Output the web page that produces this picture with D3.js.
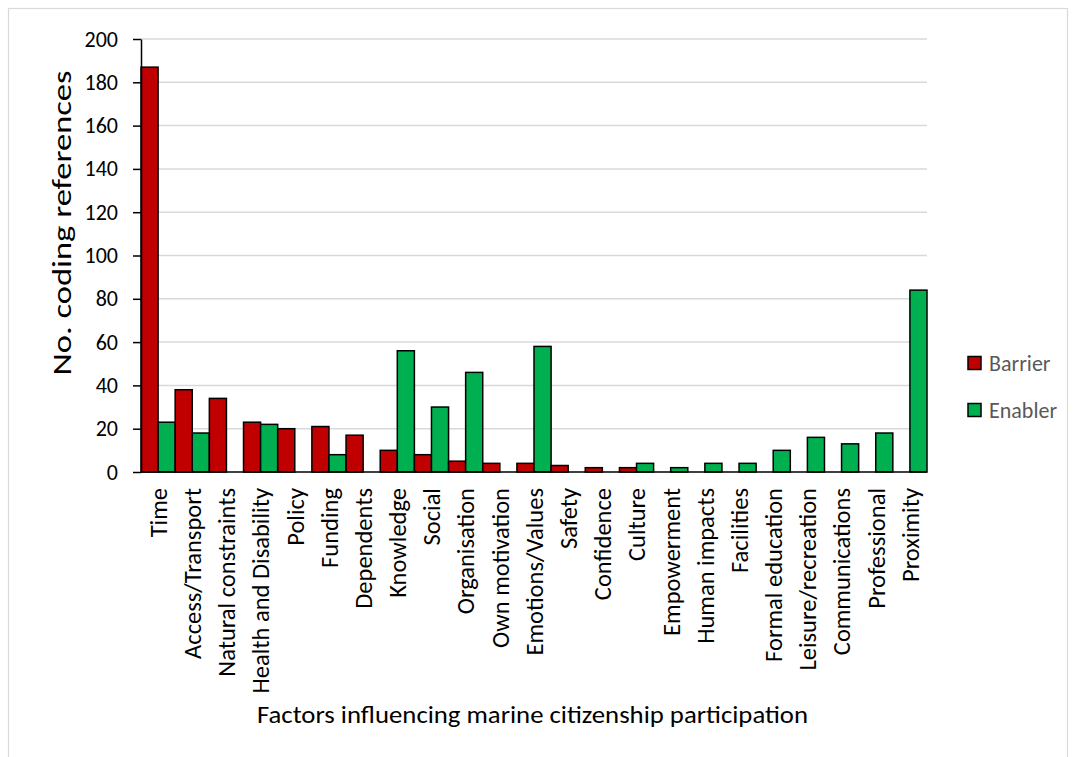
<!DOCTYPE html>
<html>
<head>
<meta charset="utf-8">
<script src="https://cdn.jsdelivr.net/npm/d3@7"></script>
<style>
  html, body { margin: 0; padding: 0; background: #fff; }
  svg text { font-family: Carlito, Lato, "Open Sans", sans-serif; }
</style>
</head>
<body>
<svg id="chart" width="1075" height="757"></svg>
<script>
// Factors and coding-reference counts
const categories = [
  "Time", "Access/Transport", "Natural constraints", "Health and Disability",
  "Policy", "Funding", "Dependents", "Knowledge", "Social", "Organisation",
  "Own motivation", "Emotions/Values", "Safety", "Confidence", "Culture",
  "Empowerment", "Human impacts", "Facilities", "Formal education",
  "Leisure/recreation", "Communications", "Professional", "Proximity"
];
const barrier = [187, 38, 34, 23, 20, 21, 17, 10, 8, 5, 4, 4, 3, 2, 2, 0, 0, 0, 0, 0, 0, 0, 0];
const enabler = [23, 18, 0, 22, 0, 8, 0, 56, 30, 46, 0, 58, 0, 0, 4, 2, 4, 4, 10, 16, 13, 18, 84];
const seriesNames = ["Barrier", "Enabler"];
const seriesColors = ["#c00000", "#00b050"];
const yTicks = [0, 20, 40, 60, 80, 100, 120, 140, 160, 180, 200];

const svg = d3.select("#chart");
const plot = { left: 141, right: 927, top: 39, bottom: 472 };

// outer chart frame
svg.append("rect")
  .attr("x", 8.5).attr("y", 8.5)
  .attr("width", 1059).attr("height", 780)
  .attr("fill", "#fff").attr("stroke", "#d9d9d9").attr("stroke-width", 1.2);

const x0 = d3.scaleBand().domain(categories).range([plot.left, plot.right]).padding(0);
const x1 = d3.scaleBand().domain(seriesNames).range([0, x0.bandwidth()]).padding(0);
const y = d3.scaleLinear().domain([0, 200]).range([plot.bottom, plot.top]);
const color = d3.scaleOrdinal().domain(seriesNames).range(seriesColors);

// horizontal gridlines
svg.append("g")
  .selectAll("line")
  .data(yTicks.filter(t => t > 0))
  .join("line")
  .attr("x1", plot.left).attr("x2", plot.right)
  .attr("y1", d => y(d)).attr("y2", d => y(d))
  .attr("stroke", "#d9d9d9").attr("stroke-width", 1.5);

// grouped bars
const rows = categories.map((c, i) => ({ category: c, values: [
  { series: "Barrier", value: barrier[i] },
  { series: "Enabler", value: enabler[i] }
]}));

svg.append("g")
  .selectAll("g")
  .data(rows)
  .join("g")
  .attr("transform", d => `translate(${x0(d.category)},0)`)
  .selectAll("rect")
  .data(d => d.values.filter(v => v.value > 0))
  .join("rect")
  .attr("x", d => x1(d.series))
  .attr("y", d => y(d.value))
  .attr("width", x1.bandwidth())
  .attr("height", d => y(0) - y(d.value))
  .attr("fill", d => color(d.series))
  .attr("stroke", "#000").attr("stroke-width", 1.5);

// y axis
const yAxis = svg.append("g")
  .attr("transform", `translate(${plot.left},0)`)
  .call(d3.axisLeft(y).tickValues(yTicks).tickSize(8).tickSizeOuter(0).tickPadding(15));
yAxis.attr("font-size", null).attr("font-family", null);
yAxis.select(".domain").attr("stroke", "#000").attr("stroke-width", 1.5);
yAxis.selectAll(".tick line").attr("stroke", "#000").attr("stroke-width", 1.5);
yAxis.selectAll(".tick text")
  .attr("font-size", 22).attr("fill", "#000");

// x axis baseline
svg.append("line")
  .attr("x1", plot.left).attr("x2", plot.right)
  .attr("y1", y(0)).attr("y2", y(0))
  .attr("stroke", "#000").attr("stroke-width", 1.5);

// rotated category labels
svg.append("g")
  .selectAll("text")
  .data(categories)
  .join("text")
  .attr("transform", d => `translate(${x0(d) + x0.bandwidth() / 2},${plot.bottom + 16}) rotate(-90)`)
  .attr("text-anchor", "end")
  .attr("dy", "0.36em")
  .attr("font-size", 24.5)
  .attr("fill", "#000")
  .text(d => d);

// axis titles
svg.append("text")
  .attr("transform", "translate(61,223) rotate(-90)")
  .attr("text-anchor", "middle")
  .attr("dy", "0.36em")
  .attr("font-size", 26.5)
  .attr("fill", "#000")
  .attr("textLength", 305)
  .attr("lengthAdjust", "spacingAndGlyphs")
  .text("No. coding references");

svg.append("text")
  .attr("x", 532.5).attr("y", 723)
  .attr("text-anchor", "middle")
  .attr("font-size", 24)
  .attr("fill", "#000")
  .attr("textLength", 551)
  .attr("lengthAdjust", "spacingAndGlyphs")
  .text("Factors influencing marine citizenship participation");

// legend
const legend = svg.append("g")
  .selectAll("g")
  .data(seriesNames)
  .join("g")
  .attr("transform", (d, i) => `translate(968,${363 + i * 47})`);
legend.append("rect")
  .attr("x", 0).attr("y", -6.5)
  .attr("width", 13).attr("height", 13)
  .attr("fill", d => color(d))
  .attr("stroke", "#000").attr("stroke-width", 1.5);
legend.append("text")
  .attr("x", 21).attr("y", 0)
  .attr("dy", "0.36em")
  .attr("font-size", 22)
  .attr("fill", "#595959")
  .text(d => d);
</script>
</body>
</html>
